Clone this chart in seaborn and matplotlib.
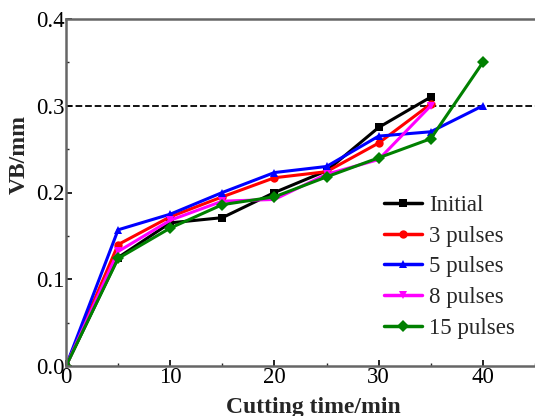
import pandas as pd
import matplotlib.pyplot as plt
import seaborn as sns

# data
time_short = [0, 5, 10, 15, 20, 25, 30, 35]
time_long = [0, 5, 10, 15, 20, 25, 30, 35, 40]

vb_initial = [0.0, 0.125, 0.165, 0.171, 0.200, 0.225, 0.275, 0.310]
vb_3 = [0.0, 0.140, 0.172, 0.195, 0.217, 0.224, 0.257, 0.302]
vb_5 = [0.0, 0.157, 0.175, 0.200, 0.223, 0.230, 0.265, 0.270, 0.300]
vb_8 = [0.0, 0.132, 0.168, 0.190, 0.192, 0.221, 0.238, 0.300]
vb_15 = [0.0, 0.124, 0.159, 0.186, 0.195, 0.218, 0.240, 0.262, 0.350]

labels = ["Initial", "3 pulses", "5 pulses", "8 pulses", "15 pulses"]
colors = ["black", "red", "blue", "magenta", "green"]
markers = ["s", "o", "^", "v", "D"]

# long-form table
frames = []
for name, t, v in zip(labels,
                      [time_short, time_short, time_long, time_short, time_long],
                      [vb_initial, vb_3, vb_5, vb_8, vb_15]):
    frames.append(pd.DataFrame({"time": t, "vb": v, "group": name}))
df = pd.concat(frames, ignore_index=True)

sns.set_style("ticks")
plt.rcParams['font.family'] = ['Liberation Serif', 'DejaVu Serif']

fig = plt.figure(figsize=(5.35, 4.16), dpi=100)
ax = fig.add_axes([66 / 535, 50 / 416, (560 - 66) / 535, (366 - 19) / 416])

sns.lineplot(
    data=df, x="time", y="vb", hue="group", style="group",
    hue_order=labels, style_order=labels,
    palette=dict(zip(labels, colors)),
    markers=dict(zip(labels, markers)),
    dashes=False, linewidth=2.2, markersize=6, markeredgewidth=0,
    ax=ax,
)

ax.axhline(0.3, color="black", linestyle="--", linewidth=1.3, zorder=0)

ax.set_xlim(0, 47.4)
ax.set_ylim(0, 0.4)
ax.set_xticks([0, 10, 20, 30, 40])
ax.set_xticks([5, 15, 25, 35, 45], minor=True)
ax.set_yticks([0.0, 0.1, 0.2, 0.3, 0.4])
ax.set_yticks([0.05, 0.15, 0.25, 0.35], minor=True)
ax.set_yticklabels(["0.0", "0.1", "0.2", "0.3", "0.4"])
ax.tick_params(direction="in", length=4, width=1.2, labelsize=16.5, colors="black")
ax.tick_params(which="minor", direction="in", length=2.5, width=1.0)
ax.tick_params(axis="x", pad=1)
ax.tick_params(axis="y", pad=1)

for side in ["left", "bottom", "top", "right"]:
    ax.spines[side].set_visible(True)
    ax.spines[side].set_color("#666666")
    ax.spines[side].set_linewidth(1.8)

ax.set_xlabel("Cutting time/min", fontsize=17, fontweight="bold")
ax.set_ylabel("VB/mm", fontsize=17, fontweight="bold")
ax.xaxis.set_label_coords(0.5, -0.09)
ax.yaxis.set_label_coords(-0.073, 0.61)

leg = ax.legend(loc="upper left", bbox_to_anchor=(318 / 494, (366 - 195) / 347),
                frameon=False, fontsize=16.5, handlelength=1.65, handletextpad=0.3,
                labelspacing=0.42, borderaxespad=0, borderpad=0)
for line in leg.get_lines():
    line.set_linewidth(2.5)

fig.savefig("out.png", dpi=100)
